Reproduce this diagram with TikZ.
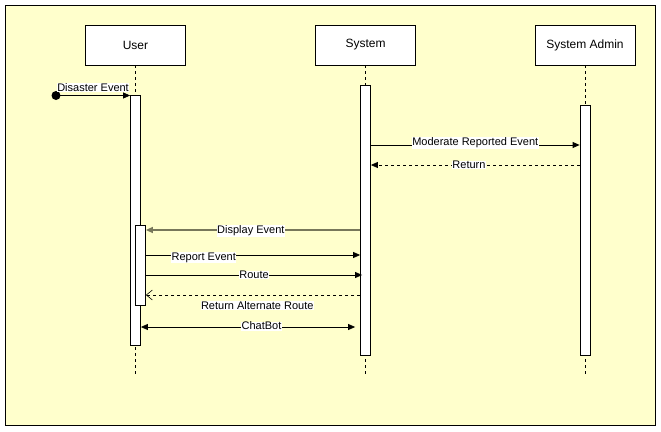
\documentclass[tikz,border=0pt]{standalone}
\usepackage{fontspec}
\setmainfont{Liberation Sans}
\usetikzlibrary{arrows.meta}
\definecolor{paleyellow}{RGB}{255,255,204}
\definecolor{olivegray}{RGB}{119,119,90}

\begin{document}
\begin{tikzpicture}[x=1pt, y=-1pt,
		actor/.style={draw, fill=white, line width=0.8pt, minimum width=100pt, minimum height=40pt, inner sep=0pt, font=\fontsize{12}{14}\selectfont},
		bar/.style={draw, fill=white, line width=0.8pt, minimum width=10pt, inner sep=0pt},
		lifeline/.style={line width=0.8pt, dash pattern=on 3pt off 3pt},
		msg/.style={line width=0.8pt, -{Triangle[length=7pt,width=6pt]}},
		reply/.style={line width=0.8pt, dash pattern=on 3pt off 3pt},
		lbl/.style={fill=white, inner sep=0.5pt, font=\fontsize{11}{13}\selectfont}]

		\useasboundingbox (0,0) rectangle (661,431);

		% frame
		\draw[fill=paleyellow, line width=1pt] (5,5) rectangle (655,425);

		% actors
		\node[actor] (user) at (135.5,45) {User};
		\node[actor] (sys) at (365.5,45) {System};
		\node[actor] (admin) at (585,45) {System Admin};

		% lifelines
		\coordinate (userend) at (135.5,375);
		\coordinate (sysend) at (365.5,375);
		\coordinate (adminend) at (585,375);
		\draw[lifeline] (user.south) -- (userend);
		\draw[lifeline] (sys.south) -- (sysend);
		\draw[lifeline] (admin.south) -- (adminend);

		% activation bars
		\node[bar, minimum height=250pt] (userbar) at (135.5,220) {};
		\node[bar, minimum height=80pt] (nestbar) at (140.5,265) {};
		\node[bar, minimum height=270pt] (sysbar) at (365.5,220) {};
		\node[bar, minimum height=250pt] (adminbar) at (585,230) {};

		% found message
		\coordinate (start) at (56,95.5);
		\fill (start) circle (4.5pt);
		\draw[msg] (start) -- (userbar.west |- start) node[lbl, midway, above=3pt] {Disaster Event};

		% system <-> admin
		\draw[msg] (sysbar.east |- 0,145) -- (adminbar.west |- 0,145) node[lbl, midway, above=-4pt] {Moderate Reported Event};
		\draw[reply, -{Triangle[length=7pt,width=6pt]}] (adminbar.west |- 0,165) -- (sysbar.east |- 0,165) node[lbl, pos=0.53] {Return};

		% system <-> user
		\draw[line width=1.5pt, draw=olivegray, -{Triangle[length=7pt,width=6pt]}] (sysbar.west |- 0,230) -- (nestbar.east |- 0,230) node[lbl, pos=0.51, yshift=-1pt] {Display Event};
		\draw[msg] (nestbar.east |- 0,255) -- (sysbar.west |- 0,255) node[lbl, pos=0.27, below=-3pt] {Report Event};
		\draw[msg] (nestbar.east |- 0,275) -- ([xshift=2pt]sysbar.west |- 0,275) node[lbl, midway] {Route};
		\draw[reply, -{Straight Barb[length=6pt,width=10pt,line width=0.6pt]}] (sysbar.west |- 0,295) -- (nestbar.east |- 0,295) node[lbl, pos=0.48, below=5.5pt] {Return Alternate Route};
		\draw[line width=0.8pt, {Triangle[length=7pt,width=6pt]}-{Triangle[length=7pt,width=6pt]}, shorten >=5pt] (userbar.east |- 0,327) -- (sysbar.west |- 0,327) node[lbl, pos=0.55, above=-4pt] {ChatBot};

\end{tikzpicture}
\end{document}
